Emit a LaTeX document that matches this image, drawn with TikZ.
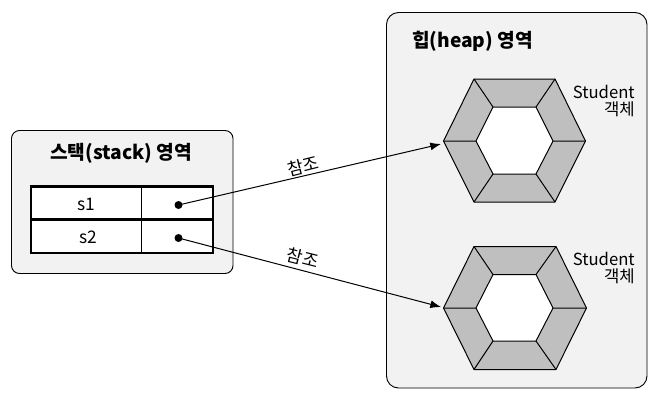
\documentclass[tikz,border=0pt]{standalone}
\usepackage{fontspec}
\setmainfont{Noto Sans CJK KR}
\usetikzlibrary{arrows.meta}
\definecolor{panel}{HTML}{F2F2F2}
\definecolor{seg}{HTML}{BFBFBF}
\tikzset{
  x=0.75pt,y=-0.75pt,
  region/.style={draw=black,fill=panel,line width=0.7pt,rounded corners=6pt},
  cell/.style={draw=black,fill=white,line width=0.75pt},
  frameline/.style={draw=black,line width=1.6pt},
  seglook/.style={draw=black,fill=seg,line width=0.75pt,line join=round},
  holelook/.style={draw=black,fill=white,line width=0.75pt,line join=round},
  titletext/.style={font=\fontsize{14.4pt}{16pt}\selectfont\bfseries,inner sep=0pt},
  celltext/.style={font=\fontsize{13pt}{15pt}\selectfont,inner sep=0pt},
  objtext/.style={font=\fontsize{12.5pt}{14pt}\selectfont,inner sep=0pt,align=right,anchor=north east},
  reftext/.style={font=\fontsize{13pt}{15pt}\selectfont,inner sep=0pt},
  dotlook/.style={circle,fill=black,inner sep=0pt,minimum size=6pt},
  refline/.style={draw=black,line width=0.75pt,-{Latex[length=8pt,width=6pt]}},
}
\begin{document}
\begin{tikzpicture}
\useasboundingbox (0,0) rectangle (658,401);
\fill[white] (0,0) rectangle (658,401);
\draw[region] (11.5,130.5) rectangle (233,273.5);
\draw[region,rounded corners=9pt] (386.5,12.5) rectangle (647,388);
\node[titletext] (stacktitle) at (121,153) {스택(stack) 영역};
\node[titletext] (heaptitle) at (472.5,41) {힙(heap) 영역};
% table
\draw[cell] (31,186.5) rectangle (213,253);
\draw[cell] (141.5,186.5) -- (141.5,253);
\draw[frameline] (31,186.5) rectangle (213,253);
\draw[frameline] (31,219.5) -- (213,219.5);
\node[celltext] (s1) at (86,204) {s1};
\node[celltext] (s2) at (88,237.5) {s2};
\node[dotlook] (d1) at (178.5,205) {};
\node[dotlook] (d2) at (178.5,238) {};
% hexagon 1
\draw[seglook] (443.5,141) -- (474,79) -- (555,79) -- (585.5,141) -- (555,202) -- (474,202) -- cycle;
\draw[holelook] (476,141) -- (493,107) -- (536,107) -- (553,141) -- (536,174) -- (493,174) -- cycle;
\draw[black,line width=0.75pt] (443.5,141) -- (476,141) (474,79) -- (493,107) (555,79) -- (536,107) (585.5,141) -- (553,141) (555,202) -- (536,174) (474,202) -- (493,174);
% hexagon 2
\draw[seglook] (443.5,308) -- (474,246.5) -- (556,246.5) -- (586.5,308) -- (556,369.5) -- (474,369.5) -- cycle;
\draw[holelook] (476,308) -- (493,274.5) -- (536,274.5) -- (553,308) -- (536,341) -- (493,341) -- cycle;
\draw[black,line width=0.75pt] (443.5,308) -- (476,308) (474,246.5) -- (493,274.5) (556,246.5) -- (536,274.5) (586.5,308) -- (553,308) (556,369.5) -- (536,341) (474,369.5) -- (493,341);
\node[objtext] (o1) at (635,85) {Student\\[-1pt]객체};
\node[objtext] (o2) at (635,252) {Student\\[-1pt]객체};
% connectors
\coordinate (t1) at (441,144);
\coordinate (t2) at (441,307);
\draw[refline] (d1.center) -- (t1);
\draw[refline] (d2.center) -- (t2);
\node[reftext,rotate=14] (r1) at (303,166.5) {참조};
\node[reftext,rotate=-14] (r2) at (303,258) {참조};
\end{tikzpicture}
\end{document}
